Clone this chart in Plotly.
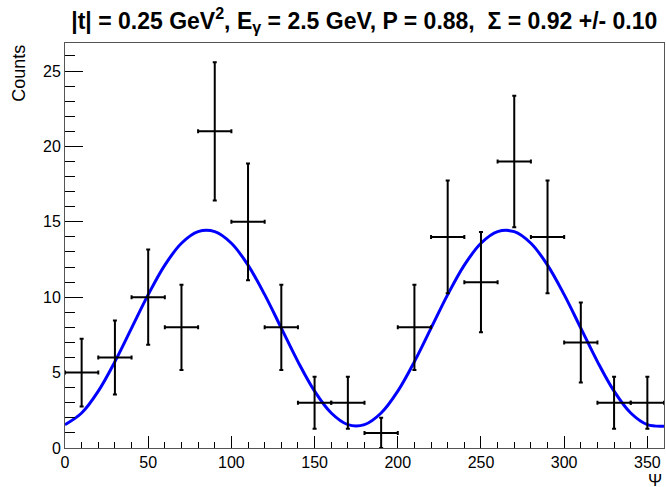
import plotly.graph_objects as go

# Histogram bins (psi, degrees)
bin_centers = [10, 30, 50, 70, 90, 110, 130, 150, 170, 190, 210, 230, 250, 270, 290, 310, 330, 350]
bin_half_width = [10] * 18
counts = [5, 6, 10, 8, 21, 15, 8, 3, 3, 1, 8, 14, 11, 19, 14, 7, 3, 3]
count_errors = [2.24, 2.45, 3.16, 2.83, 4.58, 3.87, 2.83, 1.73, 1.73, 1.0,
                2.83, 3.74, 3.32, 4.36, 3.74, 2.65, 1.73, 1.73]

# Fit curve
fit_psi = [0, 10, 20, 30, 40, 50, 60, 70, 80, 90, 100, 110, 120, 130, 140, 150, 160, 170, 180,
           190, 200, 210, 220, 230, 240, 250, 260, 270, 280, 290, 300, 310, 320, 330, 340, 350, 360]
fit_counts = [1.55, 2.32, 3.77, 5.73, 7.95, 10.17, 12.13, 13.58, 14.35, 14.35, 13.58, 12.13, 10.17,
              7.95, 5.73, 3.77, 2.32, 1.55, 1.55,
              2.32, 3.77, 5.73, 7.95, 10.17, 12.13, 13.58, 14.35, 14.35, 13.58, 12.13, 10.17,
              7.95, 5.73, 3.77, 2.32, 1.55, 1.45]

x_ticks = [0, 50, 100, 150, 200, 250, 300, 350]
y_ticks = [0, 5, 10, 15, 20, 25]

title_text = ("|t| = 0.25 GeV<sup>2</sup>, E<sub>γ</sub> = 2.5 GeV, P = 0.88,  "
              "Σ = 0.92 +/- 0.10")

FONT = "Liberation Sans, Arial, Helvetica, sans-serif"

fig = go.Figure()

fig.add_trace(go.Scatter(
    x=fit_psi, y=fit_counts, mode="lines",
    line=dict(color="#0000ff", width=3, shape="spline", smoothing=1.0),
    hoverinfo="skip", showlegend=False,
))

fig.add_trace(go.Scatter(
    x=bin_centers, y=counts, mode="markers",
    marker=dict(color="black", size=1),
    error_y=dict(type="data", array=count_errors, color="black", thickness=2, width=2),
    error_x=dict(type="data", array=bin_half_width, color="black", thickness=2, width=2),
    showlegend=False,
))

axis_common = dict(
    showgrid=False, zeroline=False,
    showline=True, linecolor="#555555", linewidth=1, mirror=True,
    ticks="inside", tickcolor="black", tickwidth=1,
    tickfont=dict(family=FONT, size=16, color="black"),
)

fig.update_xaxes(
    range=[0, 360], tickmode="array", tickvals=x_ticks, ticklen=12,
    minor=dict(dtick=10, ticks="inside", ticklen=6, tickcolor="black", tickwidth=1),
    **axis_common,
)
fig.update_yaxes(
    range=[0, 26.86], tickmode="array", tickvals=y_ticks, ticklen=18,
    minor=dict(dtick=1, ticks="inside", ticklen=10, tickcolor="black", tickwidth=1),
    **axis_common,
)

fig.update_layout(
    width=666, height=487,
    margin=dict(l=65, r=2, t=43, b=39),
    paper_bgcolor="white", plot_bgcolor="white",
    title=dict(text="<b>" + title_text + "</b>", x=0.547, xanchor="center",
               y=0.958, yanchor="middle",
               font=dict(family=FONT, size=23, color="black")),
    annotations=[
        dict(text="Counts", xref="paper", yref="paper", x=-0.078, y=1.0,
             xanchor="center", yanchor="top", textangle=-90, showarrow=False,
             font=dict(family=FONT, size=18, color="black")),
        dict(text="Ψ", xref="paper", yref="paper", x=1.0, y=-0.081,
             xanchor="right", yanchor="middle", showarrow=False,
             font=dict(family=FONT, size=17, color="black")),
    ],
)

fig.write_html("out.html", config={"displayModeBar": False},
               post_script="document.body.style.margin='0';")
